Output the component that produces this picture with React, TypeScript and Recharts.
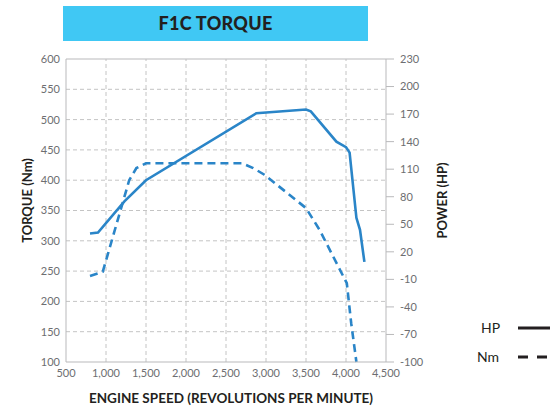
import React from "react";
import { LineChart, Line, XAxis, YAxis, ReferenceLine } from "recharts";

const rpmHP = [800, 900, 1230, 1500, 2880, 3500, 3560, 3880, 4000, 4045, 4130, 4175, 4230];
const hpValues = [40, 41, 75, 98, 171, 175, 173, 140, 134, 128, 57, 44, 9];

const rpmNm = [800, 960, 1290, 1380, 1500, 2700, 2840, 2980, 3500, 3670, 4010, 4065, 4130];
const nmValues = [242, 249, 400, 420, 428, 428, 420, 409, 354, 318, 230, 164, 100];

const xTicks = [500, 1000, 1500, 2000, 2500, 3000, 3500, 4000, 4500];
const torqueTicks = [100, 150, 200, 250, 300, 350, 400, 450, 500, 550, 600];
const powerTicks = [230, 200, 170, 140, 110, 80, 50, 20, -10, -40, -70, -100];

const hpData = rpmHP.map((rpm, i) => ({ rpm, hp: hpValues[i] }));
const nmData = rpmNm.map((rpm, i) => ({ rpm, nm: nmValues[i] }));

const BLUE = "#2a85c8";
const GRID = "#c4c4c4";
const AXIS = "#b9b9bb";
const TICK = "#6d6e71";
const DARK = "#231f20";
const FONT = "Lato, 'Open Sans', sans-serif";

const tickStyle = { fill: TICK, fontSize: 11, fontFamily: FONT };

export default function App() {
  const innerX = xTicks.slice(1, -1);
  const innerY = torqueTicks.slice(1, -1);
  return (
    <div style={{ position: "absolute", left: 0, top: 0, width: 550, height: 407, background: "#fff" }}>
      <div
        style={{
          position: "absolute",
          left: 63,
          top: 6,
          width: 305,
          height: 35,
          background: "#40c8f4",
          color: DARK,
          fontFamily: FONT,
          fontWeight: 900,
          fontSize: 18,
          lineHeight: "35px",
          textAlign: "center",
          letterSpacing: 0.3,
        }}
      >
        F1C TORQUE
      </div>
      <LineChart width={550} height={407} margin={{ top: 59, right: 0, bottom: 0, left: 0 }}>
        <XAxis
          xAxisId="x"
          dataKey="rpm"
          type="number"
          domain={[500, 4500]}
          ticks={xTicks}
          interval={0}
          allowDuplicatedCategory={false}
          tickFormatter={(v: number) => v.toLocaleString("en-US")}
          height={45}
          axisLine={{ stroke: AXIS }}
          tickLine={false}
          tick={tickStyle}
          tickSize={4}
          tickMargin={3}
          label={{
            content: (props: any) => {
              const vb = props.viewBox;
              return (
                <text
                  x={vb.x + vb.width / 2 + 5}
                  y={vb.y + 41}
                  textAnchor="middle"
                  fill={DARK}
                  fontFamily={FONT}
                  fontWeight={700}
                  fontSize={13.5}
                >
                  ENGINE SPEED (REVOLUTIONS PER MINUTE)
                </text>
              );
            },
          }}
        />
        <YAxis
          yAxisId="nm"
          orientation="left"
          width={66}
          domain={[100, 600]}
          ticks={torqueTicks}
          interval={0}
          axisLine={{ stroke: AXIS }}
          tickLine={false}
          tickSize={4}
          tickMargin={2}
          tick={tickStyle}
          label={{
            content: (props: any) => {
              const vb = props.viewBox;
              const cx = vb.x + 27;
              const cy = vb.y + vb.height / 2 - 10;
              return (
                <text
                  x={cx}
                  y={cy}
                  transform={`rotate(-90, ${cx}, ${cy})`}
                  textAnchor="middle"
                  dominantBaseline="central"
                  fill={DARK}
                  fontFamily={FONT}
                  fontWeight={700}
                  fontSize={13}
                >
                  TORQUE (Nm)
                </text>
              );
            },
          }}
        />
        <YAxis
          yAxisId="hp"
          orientation="right"
          width={164}
          domain={[-100, 230]}
          ticks={powerTicks}
          interval={0}
          axisLine={{ stroke: AXIS }}
          tickLine={{ stroke: AXIS }}
          tickSize={8}
          tickMargin={6}
          tick={{ ...tickStyle, textAnchor: "start" }}
          label={{
            content: (props: any) => {
              const vb = props.viewBox;
              const cx = vb.x + 56;
              const cy = vb.y + vb.height / 2 - 10;
              return (
                <text
                  x={cx}
                  y={cy}
                  transform={`rotate(-90, ${cx}, ${cy})`}
                  textAnchor="middle"
                  dominantBaseline="central"
                  fill={DARK}
                  fontFamily={FONT}
                  fontWeight={700}
                  fontSize={13}
                >
                  POWER (HP)
                </text>
              );
            },
          }}
        />
        {innerX.map((v) => (
          <ReferenceLine key={`vx${v}`} xAxisId="x" yAxisId="nm" x={v} stroke={GRID} strokeDasharray="4 3" />
        ))}
        {innerY.map((v) => (
          <ReferenceLine key={`hy${v}`} xAxisId="x" yAxisId="nm" y={v} stroke={GRID} strokeDasharray="4 3" />
        ))}
        <ReferenceLine xAxisId="x" yAxisId="nm" y={600} stroke={AXIS} />
        <Line
          xAxisId="x"
          yAxisId="hp"
          data={hpData}
          dataKey="hp"
          type="linear"
          stroke={BLUE}
          strokeWidth={2.6}
          dot={false}
          isAnimationActive={false}
        />
        <Line
          xAxisId="x"
          yAxisId="nm"
          data={nmData}
          dataKey="nm"
          type="linear"
          stroke={BLUE}
          strokeWidth={2.6}
          strokeDasharray="8 5"
          dot={false}
          isAnimationActive={false}
        />
      </LineChart>
      <div style={{ position: "absolute", left: 470, top: 320, width: 80, fontFamily: FONT, color: DARK, fontSize: 14 }}>
        <div style={{ position: "absolute", left: 11, top: 0, lineHeight: "16px" }}>HP</div>
        <svg style={{ position: "absolute", left: 48, top: 6 }} width={32} height={4}>
          <line x1={0} y1={2} x2={32} y2={2} stroke={DARK} strokeWidth={3} />
        </svg>
        <div style={{ position: "absolute", left: 7, top: 29, lineHeight: "16px" }}>Nm</div>
        <svg style={{ position: "absolute", left: 48, top: 35 }} width={32} height={4}>
          <line x1={0} y1={2} x2={32} y2={2} stroke={DARK} strokeWidth={3} strokeDasharray="10 9" />
        </svg>
      </div>
    </div>
  );
}
